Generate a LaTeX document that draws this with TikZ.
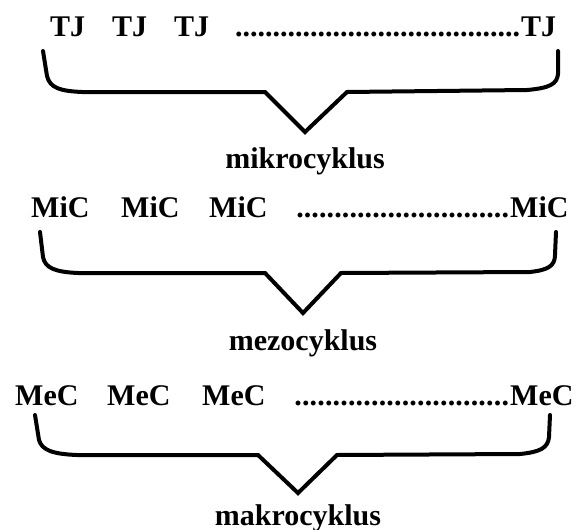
\documentclass[tikz,border=0pt]{standalone}
\usepackage{fontspec}
\setmainfont{Liberation Serif}
\tikzset{
  item/.style={anchor=base west, inner sep=0pt, font=\fontsize{30}{36}\selectfont\bfseries},
  cyclelabel/.style={anchor=base, inner sep=0pt, font=\fontsize{30}{36}\selectfont\bfseries},
  bracket/.style={line width=4pt, line cap=round, line join=miter}
}
% a row of dots stretched over a given width
\newcommand{\dotrow}[1]{\hbox to #1pt{\xleaders\hbox{.}\hfill}}
\begin{document}
\begin{tikzpicture}[x=1pt, y=-1pt]
\useasboundingbox (0,0) rectangle (581,530);

% training units -> microcycle
\node[item] (tj1) at (50,36) {TJ};
\node[item] (tj2) at (112,36) {TJ};
\node[item] (tj3) at (174,36) {TJ};
\node[item] (tjd) at (235,36) {\dotrow{285}};
\node[item] (tj4) at (521,36) {TJ};
\draw[bracket] (43,51) -- (47,76) .. controls (50,88) and (60,91) .. (82,92)
  -- (265,92) -- (305,132) -- (347,92) -- (527,90)
  .. controls (550,88) and (557,84) .. (558,74) -- (558,51);
\node[cyclelabel] (mik) at (305,168) {mikrocyklus};

% microcycles -> mesocycle
\node[item] (mic1) at (31,217) {MiC};
\node[item] (mic2) at (121,217) {MiC};
\node[item] (mic3) at (209,217) {MiC};
\node[item] (micd) at (296,217) {\dotrow{213}};
\node[item] (mic4) at (510,217) {MiC};
\draw[bracket] (40,232) -- (43,257) .. controls (45,268) and (55,272) .. (78,273)
  -- (265,273) -- (303,313) -- (341,273) -- (530,272)
  .. controls (548,270) and (555,266) .. (555,255) -- (556,232);
\node[cyclelabel] (mez) at (303,350) {mezocyklus};

% mesocycles -> macrocycle
\node[item] (mec1) at (15,405) {MeC};
\node[item] (mec2) at (107,405) {MeC};
\node[item] (mec3) at (202,405) {MeC};
\node[item] (mecd) at (294,405) {\dotrow{215}};
\node[item] (mec4) at (510,405) {MeC};
\draw[bracket] (35,415) -- (39,440) .. controls (42,450) and (52,454) .. (77,455)
  -- (258,455) -- (298,493) -- (337,455) -- (520,454)
  .. controls (540,452) and (548,448) .. (549,437) -- (550,415);
\node[cyclelabel] (mak) at (298,525) {makrocyklus};
\end{tikzpicture}
\end{document}
